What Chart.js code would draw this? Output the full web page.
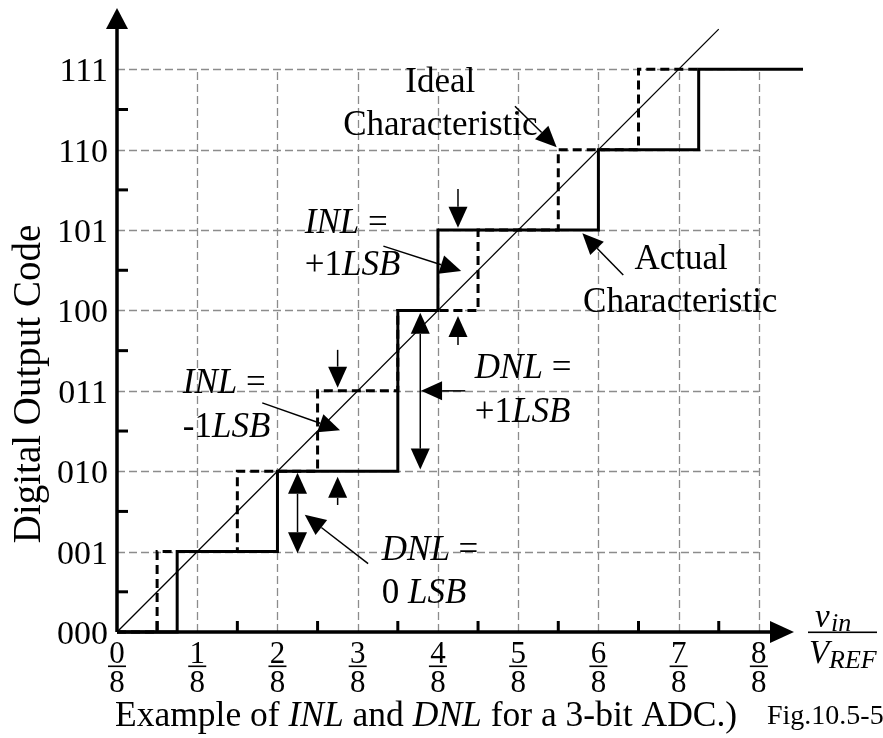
<!DOCTYPE html>
<html>
<head>
<meta charset="utf-8">
<script src="https://cdn.jsdelivr.net/npm/chart.js@4/dist/chart.umd.min.js"></script>
<style>
  html, body { margin: 0; padding: 0; background: #fff; }
  #wrap { width: 883px; height: 738px; position: relative; }
</style>
</head>
<body>
<div id="wrap"><canvas id="adc"></canvas></div>
<script>
// --- DATA (x in eighths of V_REF, y in output code) ---
const idealLineX = [0, 7.5];
const idealLineY = [0, 7.5];

// ideal staircase: code changes at the half-LSB points
const idealStepX = [0, 0.5, 1.5, 2.5, 3.5, 4.5, 5.5, 6.5, 7.25];
const idealStepY = [0, 1, 2, 3, 4, 5, 6, 7, 7];

// actual staircase (code 011 is missing)
const actualStepX = [0, 0.75, 2, 3.5, 4, 6, 7.25, 8.55];
const actualStepY = [0, 1, 2, 4, 5, 6, 7, 7];

const yTickLabels = ['000', '001', '010', '011', '100', '101', '110', '111'];
const xTickNumerators = ['0', '1', '2', '3', '4', '5', '6', '7', '8'];
const xTickDenominator = '8';

const SERIF = '"Liberation Serif", "Times New Roman", serif';

function pts(xs, ys) {
    return xs.map((x, i) => ({ x: x, y: ys[i] }));
}

// --- DRAW HELPERS ---
function arrowHead(ctx, x1, y1, x2, y2, len, half) {
    const a = Math.atan2(y2 - y1, x2 - x1);
    ctx.beginPath();
    ctx.moveTo(x2, y2);
    ctx.lineTo(x2 - len * Math.cos(a) + half * Math.sin(a), y2 - len * Math.sin(a) - half * Math.cos(a));
    ctx.lineTo(x2 - len * Math.cos(a) - half * Math.sin(a), y2 - len * Math.sin(a) + half * Math.cos(a));
    ctx.closePath();
    ctx.fill();
}

function arrow(ctx, x1, y1, x2, y2, both) {
    const len = 21, half = 9.5;
    const a = Math.atan2(y2 - y1, x2 - x1);
    ctx.beginPath();
    ctx.lineWidth = 1.5;
    const sx = both ? x1 + len * Math.cos(a) : x1;
    const sy = both ? y1 + len * Math.sin(a) : y1;
    ctx.moveTo(sx, sy);
    ctx.lineTo(x2 - len * Math.cos(a), y2 - len * Math.sin(a));
    ctx.stroke();
    arrowHead(ctx, x1, y1, x2, y2, len, half);
    if (both) arrowHead(ctx, x2, y2, x1, y1, len, half);
}

// parts: [[text, italic], ...]
function richText(ctx, parts, x, y, size, align) {
    let total = 0;
    const widths = parts.map(p => {
        ctx.font = (p[1] ? 'italic ' : '') + size + 'px ' + SERIF;
        const w = ctx.measureText(p[0]).width;
        total += w;
        return w;
    });
    let cx = align === 'center' ? x - total / 2 : x;
    ctx.textAlign = 'left';
    ctx.textBaseline = 'alphabetic';
    parts.forEach((p, i) => {
        ctx.font = (p[1] ? 'italic ' : '') + size + 'px ' + SERIF;
        ctx.fillText(p[0], cx, y);
        cx += widths[i];
    });
}

// annotations in data coordinates
const arrows = [
    { from: [4.96, 6.54], to: [5.48, 6.03] },          // ideal characteristic
    { from: [6.31, 4.44], to: [5.80, 4.96] },          // actual characteristic
    { from: [3.32, 4.80], to: [4.29, 4.49] },          // INL = +1
    { from: [4.25, 5.51], to: [4.25, 5.03] },
    { from: [4.25, 3.57], to: [4.25, 3.93] },
    { from: [1.81, 2.85], to: [2.78, 2.51] },          // INL = -1
    { from: [2.75, 3.51], to: [2.75, 3.04] },
    { from: [2.75, 1.58], to: [2.75, 1.93] },
    { from: [2.25, 1.98], to: [2.25, 0.98], both: true }, // DNL = 0
    { from: [3.13, 0.85], to: [2.34, 1.46] },
    { from: [3.78, 3.97], to: [3.78, 2.02], both: true }, // DNL = +1
    { from: [4.34, 3.0], to: [3.79, 3.0] }
];

const labels = [
    { at: [4.03, 6.72], align: 'center', parts: [['Ideal', false]] },
    { at: [4.03, 6.18], align: 'center', parts: [['Characteristic', false]] },
    { at: [7.03, 4.52], align: 'center', parts: [['Actual', false]] },
    { at: [7.02, 3.98], align: 'center', parts: [['Characteristic', false]] },
    { at: [2.34, 4.96], align: 'left', parts: [['INL', true], [' =', false]] },
    { at: [2.34, 4.44], align: 'left', parts: [['+1', false], ['LSB', true]] },
    { at: [0.82, 2.97], align: 'left', parts: [['INL', true], [' =', false]] },
    { at: [0.82, 2.43], align: 'left', parts: [['-1', false], ['LSB', true]] },
    { at: [3.30, 0.90], align: 'left', parts: [['DNL', true], [' =', false]] },
    { at: [3.30, 0.36], align: 'left', parts: [['0 ', false], ['LSB', true]] },
    { at: [4.46, 3.16], align: 'left', parts: [['DNL', true], [' =', false]] },
    { at: [4.46, 2.61], align: 'left', parts: [['+1', false], ['LSB', true]] }
];

const schematic = {
    id: 'schematic',
    beforeDatasetsDraw(chart) {
        const ctx = chart.ctx, xs = chart.scales.x, ys = chart.scales.y;
        ctx.save();
        ctx.strokeStyle = '#8c8c8c';
        ctx.lineWidth = 1.3;
        ctx.setLineDash([8, 4]);
        for (let i = 1; i <= 8; i++) {
            const px = Math.round(xs.getPixelForValue(i)) + 0.5;
            ctx.beginPath();
            ctx.moveTo(px, ys.getPixelForValue(0));
            ctx.lineTo(px, ys.getPixelForValue(7));
            ctx.stroke();
        }
        for (let j = 1; j <= 7; j++) {
            const py = Math.round(ys.getPixelForValue(j)) + 0.5;
            ctx.beginPath();
            ctx.moveTo(xs.getPixelForValue(0), py);
            ctx.lineTo(xs.getPixelForValue(8), py);
            ctx.stroke();
        }
        ctx.restore();
    },
    afterDatasetsDraw(chart) {
        const ctx = chart.ctx, xs = chart.scales.x, ys = chart.scales.y;
        const X = v => xs.getPixelForValue(v), Y = v => ys.getPixelForValue(v);
        const x0 = X(0), y0 = Y(0);
        ctx.save();
        ctx.fillStyle = '#000';
        ctx.strokeStyle = '#000';

        // axes
        ctx.lineWidth = 3.5;
        ctx.beginPath();
        ctx.moveTo(x0, y0);
        ctx.lineTo(772, y0);
        ctx.moveTo(x0, y0);
        ctx.lineTo(x0, 28);
        ctx.stroke();
        ctx.beginPath();
        ctx.moveTo(794, y0); ctx.lineTo(770, y0 - 11); ctx.lineTo(770, y0 + 11); ctx.closePath(); ctx.fill();
        ctx.beginPath();
        ctx.moveTo(x0, 8); ctx.lineTo(x0 - 11, 29); ctx.lineTo(x0 + 11, 29); ctx.closePath(); ctx.fill();

        // minor ticks at half steps
        ctx.lineWidth = 3;
        for (let i = 0; i < 8; i++) {
            const px = X(i + 0.5);
            ctx.beginPath(); ctx.moveTo(px, y0); ctx.lineTo(px, y0 - 11); ctx.stroke();
        }
        for (let j = 0; j < 7; j++) {
            const py = Y(j + 0.5);
            ctx.beginPath(); ctx.moveTo(x0, py); ctx.lineTo(x0 + 11, py); ctx.stroke();
        }

        // y tick labels
        ctx.font = '34px ' + SERIF;
        ctx.textAlign = 'right';
        ctx.textBaseline = 'alphabetic';
        yTickLabels.forEach((t, j) => ctx.fillText(t, 108, Y(j) + 12));

        // x tick labels as fractions
        ctx.font = '31px ' + SERIF;
        ctx.textAlign = 'center';
        xTickNumerators.forEach((t, i) => {
            const px = X(i);
            ctx.fillText(t, px, 663);
            ctx.fillText(xTickDenominator, px, 692);
            ctx.fillRect(px - 9, 665.5, 18, 1.6);
        });

        // x axis title v_in / V_REF
        ctx.textAlign = 'left';
        ctx.font = 'italic 33px ' + SERIF;
        ctx.fillText('v', 815, 627);
        ctx.font = 'italic 26px ' + SERIF;
        ctx.fillText('in', 831, 631);
        ctx.fillRect(808, 631.5, 69, 1.6);
        ctx.font = 'italic 33px ' + SERIF;
        ctx.fillText('V', 809, 663);
        ctx.font = 'italic 26px ' + SERIF;
        ctx.fillText('REF', 829, 668);

        // y axis title
        ctx.save();
        ctx.translate(40, 384);
        ctx.rotate(-Math.PI / 2);
        ctx.font = '39px ' + SERIF;
        ctx.textAlign = 'center';
        ctx.fillText('Digital Output Code', 0, 0);
        ctx.restore();

        // annotations
        arrows.forEach(a => arrow(ctx, X(a.from[0]), Y(a.from[1]), X(a.to[0]), Y(a.to[1]), a.both));
        labels.forEach(l => richText(ctx, l.parts, X(l.at[0]), Y(l.at[1]), 35, l.align));

        // caption
        richText(ctx, [['Example of ', false], ['INL', true], [' and ', false], ['DNL', true], [' for a 3-bit ADC.)', false]],
            115, 726, 35.5, 'left');
        ctx.font = '28px ' + SERIF;
        ctx.textAlign = 'left';
        ctx.fillText('Fig.10.5-5', 767, 724);
        ctx.restore();
    }
};

new Chart(document.getElementById('adc'), {
    type: 'line',
    data: {
        datasets: [
            {
                label: 'Ideal staircase',
                data: pts(idealStepX, idealStepY),
                stepped: true,
                borderColor: '#000',
                borderWidth: 3,
                borderDash: [9, 5],
                pointRadius: 0,
                fill: false
            },
            {
                label: 'Actual Characteristic',
                data: pts(actualStepX, actualStepY),
                stepped: true,
                borderColor: '#000',
                borderWidth: 3,
                pointRadius: 0,
                fill: false
            },
            {
                label: 'Ideal Characteristic',
                data: pts(idealLineX, idealLineY),
                borderColor: '#000',
                borderWidth: 1.3,
                pointRadius: 0,
                fill: false
            }
        ]
    },
    options: {
        responsive: true,
        maintainAspectRatio: false,
        animation: false,
        clip: false,
        layout: { padding: { left: 117, right: 76, top: 5, bottom: 106 } },
        scales: {
            x: { type: 'linear', min: 0, max: 8.6, display: false },
            y: { type: 'linear', min: 0, max: 7.8, display: false }
        },
        plugins: { legend: { display: false }, tooltip: { enabled: false } }
    },
    plugins: [schematic]
});
</script>
</body>
</html>
